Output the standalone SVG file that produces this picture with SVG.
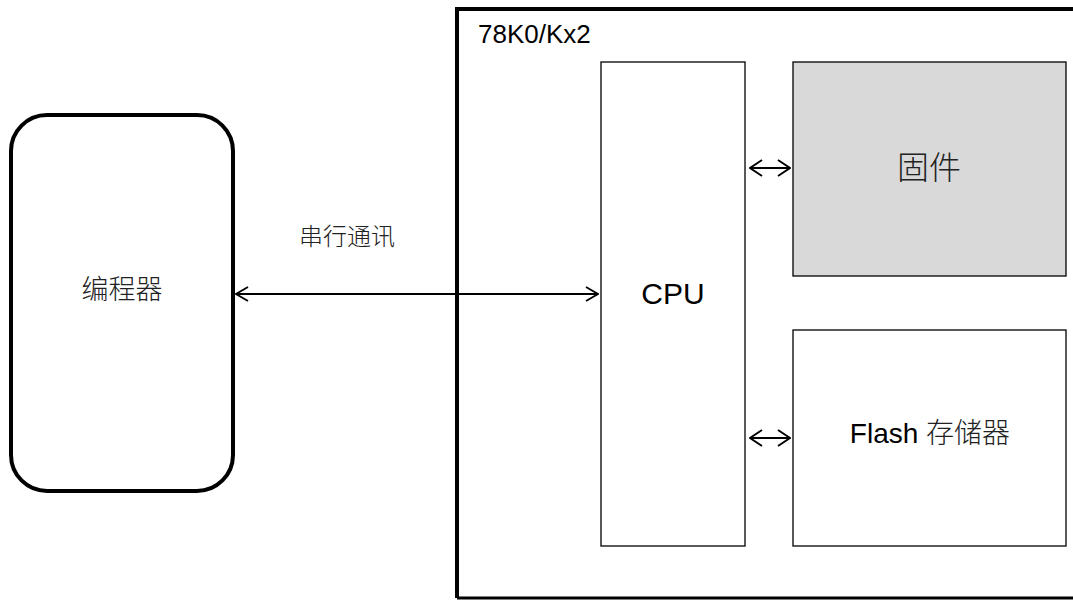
<svg xmlns="http://www.w3.org/2000/svg" width="1073" height="600" viewBox="0 0 1073 600">
<style>
.t{font-family:"Liberation Sans","Noto Sans CJK SC",sans-serif;fill:#000}
.c{font-family:"Noto Sans CJK SC","Liberation Sans",sans-serif;fill:#222;font-weight:300}
.box{fill:#fff;stroke:#000;stroke-width:1.3}
.ln{stroke:#000;stroke-width:1.8;fill:none}
</style>
<defs>
<marker id="ah" viewBox="0 0 14 18" refX="13" refY="9" markerWidth="14" markerHeight="18" markerUnits="userSpaceOnUse" orient="auto-start-reverse">
<path d="M1,1 L13,9 L1,17" fill="none" stroke="#000" stroke-width="2"/>
</marker>
<marker id="ah2" viewBox="0 0 14 16" refX="13" refY="8" markerWidth="14" markerHeight="16" markerUnits="userSpaceOnUse" orient="auto-start-reverse">
<path d="M1,1 L13,8 L1,15" fill="none" stroke="#000" stroke-width="1.8"/>
</marker>
</defs>
<g id="chip">
<path d="M457,598 L457,9 L1080,9" fill="none" stroke="#000" stroke-width="4"/>
<line x1="457" y1="598" x2="1080" y2="598" stroke="#000" stroke-width="3"/>
<text class="t" x="478" y="43" font-size="26">78K0/Kx2</text>
</g>
<g id="programmer">
<rect x="11" y="115" width="222" height="376" rx="36" ry="36" fill="#fff" stroke="#000" stroke-width="4"/>
<text class="c" x="122" y="299" font-size="27" text-anchor="middle">编程器</text>
</g>
<g id="cpu">
<rect class="box" x="601" y="62" width="144" height="484"/>
<text class="t" x="673" y="304" font-size="30" text-anchor="middle">CPU</text>
</g>
<g id="firmware">
<rect class="box" x="793" y="62" width="273" height="214" style="fill:#d9d9d9"/>
<text class="c" x="929" y="179" font-size="32" text-anchor="middle">固件</text>
</g>
<g id="flash">
<rect class="box" x="793" y="330" width="273" height="216"/>
<text class="t" x="930" y="443" font-size="28" text-anchor="middle">Flash <tspan style="font-family:'Noto Sans CJK SC',sans-serif;font-weight:300;fill:#222">存储器</tspan></text>
</g>
<g id="connectors">
<line class="ln" x1="236" y1="294" x2="598" y2="294" marker-start="url(#ah2)" marker-end="url(#ah2)"/>
<line class="ln" x1="750" y1="168" x2="790" y2="168" stroke-width="2.4" marker-start="url(#ah)" marker-end="url(#ah)"/>
<line class="ln" x1="750" y1="438" x2="790" y2="438" stroke-width="2.4" marker-start="url(#ah)" marker-end="url(#ah)"/>
</g>
<text class="c" x="347" y="245" font-size="24" text-anchor="middle">串行通讯</text>
</svg>
